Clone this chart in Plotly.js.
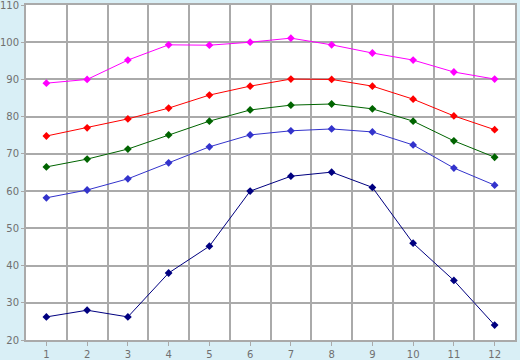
<!DOCTYPE html>
<html><head><meta charset="utf-8">
<script src="https://cdn.plot.ly/plotly-3.0.1.min.js"></script>
<style>html,body{margin:0;padding:0;background:#d9eff6;}#c{width:520px;height:360px;}</style>
</head><body><div id="c"></div>
<script>
const months = [1,2,3,4,5,6,7,8,9,10,11,12];
const tickLabels = ["1","2","3","4","5","6","7","8","9","10","11","12"];
const yTicks = [20,30,40,50,60,70,80,90,100,110];
const seriesMagenta = [89,90,95.2,99.3,99.2,100,101.1,99.3,97.1,95.2,92,90.1];
const seriesRed = [74.8,77,79.4,82.3,85.8,88.2,90.1,90,88.2,84.7,80.2,76.5];
const seriesGreen = [66.5,68.6,71.3,75.1,78.8,81.8,83.1,83.4,82.1,78.8,73.5,69.1];
const seriesBlue = [58.2,60.3,63.3,67.6,71.9,75.1,76.2,76.7,75.9,72.4,66.2,61.6];
const seriesNavy = [26.2,28,26.2,38,45.2,60,64,65.1,61,46,36,24];

function tr(y, color){
  return {x: months, y: y, type:'scatter', mode:'lines+markers',
    line:{color:color, width:1}, marker:{symbol:'diamond', size:6, color:color}, showlegend:false, hoverinfo:'none'};
}
const data = [
  tr(seriesNavy,'#000080'),
  tr(seriesBlue,'#3333cc'),
  tr(seriesGreen,'#006400'),
  tr(seriesRed,'#ff0000'),
  tr(seriesMagenta,'#ff00ff')
];
const gridX = months.slice(0,11).map(m => m + 0.5);
const layout = {
  width:520, height:360,
  margin:{l:26, r:5, t:5, b:20},
  paper_bgcolor:'#d9eff6', plot_bgcolor:'#ffffff',
  font:{family:'DejaVu Sans', size:10, color:'#707070'},
  xaxis:{range:[0.5,12.5], tickvals:months, ticktext:tickLabels, showgrid:false, zeroline:false,
    ticks:'outside', ticklen:4, tickcolor:'#aaaaaa', showline:true, linecolor:'#aaaaaa', linewidth:2, mirror:true,
    minor:{tickvals:gridX, showgrid:true, gridcolor:'#aaaaaa', gridwidth:2, ticks:''},
    ticklabeloverflow:'allow', tickfont:{size:10, color:'#707070'}},
  yaxis:{range:[20,110], tickvals:yTicks, showgrid:true, gridcolor:'#aaaaaa', gridwidth:2, zeroline:false,
    ticks:'outside', ticklen:3, tickcolor:'#aaaaaa', showline:true, linecolor:'#aaaaaa', linewidth:2, mirror:true,
    ticklabeloverflow:'allow', tickfont:{size:10, color:'#707070'}}
};
Plotly.newPlot('c', data, layout, {staticPlot:true, displayModeBar:false});
</script></body></html>
